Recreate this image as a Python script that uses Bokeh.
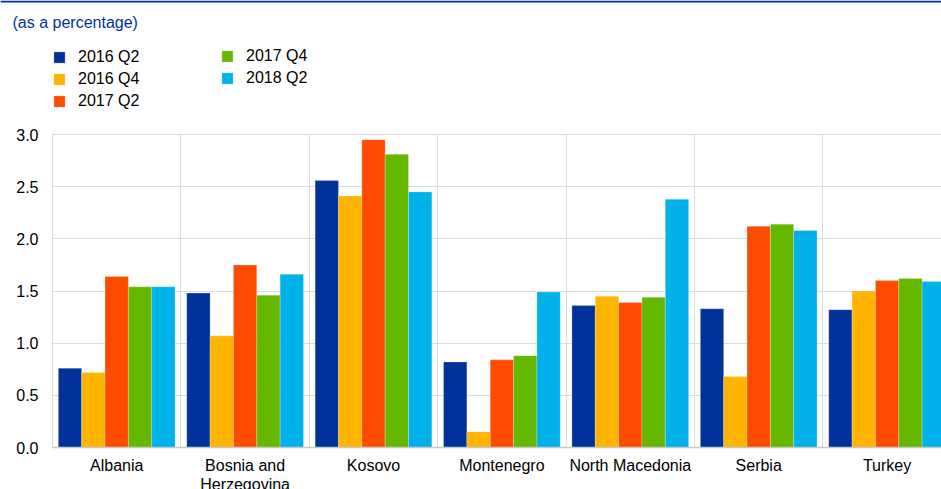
from bokeh.plotting import figure
from bokeh.models import (Range1d, FixedTicker, Legend, LegendItem, Label,
                          BoxAnnotation, ColumnDataSource)
from bokeh.embed import file_html
from bokeh.resources import INLINE

countries = ["Albania", "Bosnia and\nHerzegovina", "Kosovo", "Montenegro",
             "North Macedonia", "Serbia", "Turkey"]
series_names = ["2016 Q2", "2016 Q4", "2017 Q2", "2017 Q4", "2018 Q2"]
colors = ["#003299", "#FFB400", "#FF4B00", "#65B800", "#00B1EA"]

q2_2016 = [0.76, 1.48, 2.56, 0.82, 1.36, 1.33, 1.32]
q4_2016 = [0.72, 1.07, 2.41, 0.15, 1.45, 0.68, 1.50]
q2_2017 = [1.64, 1.75, 2.95, 0.84, 1.39, 2.12, 1.60]
q4_2017 = [1.54, 1.46, 2.81, 0.88, 1.44, 2.14, 1.62]
q2_2018 = [1.54, 1.66, 2.45, 1.49, 2.38, 2.08, 1.59]
series_values = [q2_2016, q4_2016, q2_2017, q4_2017, q2_2018]

y_ticks = [0.0, 0.5, 1.0, 1.5, 2.0, 2.5, 3.0]
y_tick_labels = ["0.0", "0.5", "1.0", "1.5", "2.0", "2.5", "3.0"]

FONT = "Liberation Sans"
FS = "16px"
W, H = 941, 489
# layout (pixels): plot area left edge, y of value 0, y of value 3.0
PX_LEFT, PX_ZERO, PX_TOPVAL = 52, 447, 134
cat_px = 128.4
y_max = y_ticks[-1]
ppu = (PX_ZERO - PX_TOPVAL) / y_max
n_cat = len(countries)
n_series = len(series_names)
group_frac = 0.909
bar_w = group_frac / n_series

p = figure(width=W, height=H, output_backend="svg", toolbar_location=None,
           x_range=Range1d(-PX_LEFT / cat_px, (W - PX_LEFT) / cat_px),
           y_range=Range1d(-(H - PX_ZERO) / ppu, y_max + PX_TOPVAL / ppu),
           min_border=0, min_border_left=0, min_border_right=0,
           min_border_top=0, min_border_bottom=0)
p.outline_line_color = None
p.background_fill_color = "white"
p.border_fill_color = "white"

renderers = []
for k, (name, vals, col) in enumerate(zip(series_names, series_values, colors)):
    xs = [i + 0.5 - group_frac / 2 + bar_w * (k + 0.5) for i in range(n_cat)]
    src = ColumnDataSource(dict(x=xs, top=vals))
    r = p.vbar(x="x", top="top", bottom=0, width=bar_w, source=src,
               fill_color=col, line_color="white", line_width=0.4, line_alpha=0.6)
    renderers.append(r)

# grids, limited to the plot area by white masks drawn over them
p.xgrid.ticker = FixedTicker(ticks=list(range(n_cat + 1)))
p.ygrid.ticker = FixedTicker(ticks=y_ticks)
p.xgrid.grid_line_color = "#dcdcdc"
p.ygrid.grid_line_color = "#dcdcdc"
eps = 0.6
for kw in (dict(bottom=y_max + eps / ppu), dict(top=-eps / ppu), dict(right=-eps / cat_px)):
    p.add_layout(BoxAnnotation(fill_color="white", fill_alpha=1, line_color=None,
                               level="underlay", **kw))

# axes fixed at the data origin
xa = p.xaxis[0]
xa.fixed_location = 0
xa.bounds = (0, n_cat)
xa.ticker = FixedTicker(ticks=[i + 0.5 for i in range(n_cat)])
xa.major_label_overrides = {i + 0.5: c for i, c in enumerate(countries)}
xa.axis_line_color = "#c8c8c8"
xa.axis_line_width = 1.5
xa.major_tick_line_color = None
xa.minor_tick_line_color = None
xa.major_tick_out = 0
xa.major_tick_in = 0
xa.major_label_standoff = 9
xa.major_label_text_font = FONT
xa.major_label_text_font_size = FS
xa.major_label_text_color = "#000000"
xa.major_label_text_line_height = 1.15

ya = p.yaxis[0]
ya.fixed_location = 0
ya.bounds = (0, y_max)
ya.ticker = FixedTicker(ticks=y_ticks)
ya.major_label_overrides = {t: l for t, l in zip(y_ticks, y_tick_labels)}
ya.axis_line_color = None
ya.major_tick_line_color = None
ya.minor_tick_line_color = None
ya.major_tick_out = 0
ya.major_tick_in = 0
ya.major_label_standoff = 14
ya.major_label_text_font = FONT
ya.major_label_text_font_size = FS
ya.major_label_text_color = "#000000"

# legends (two columns)
def make_legend(items, x, y):
    return Legend(items=items, location=(x, y), orientation="vertical",
                  glyph_width=14, glyph_height=14, label_standoff=12,
                  label_text_font=FONT, label_text_font_size=FS,
                  label_text_color="#000000", label_height=14, spacing=4,
                  padding=0, margin=0, border_line_color=None,
                  background_fill_alpha=0)

items = [LegendItem(label=n, renderers=[r]) for n, r in zip(series_names, renderers)]
p.add_layout(make_legend(items[:3], PX_LEFT, H - 110), "center")
p.add_layout(make_legend(items[3:], PX_LEFT + 168, H - 87), "center")

title = Label(x=12, y=H - 22, x_units="screen", y_units="screen",
              text="(as a percentage)", text_font=FONT, text_font_size=FS,
              text_color="#003299", text_baseline="middle")
p.add_layout(title)

topline = BoxAnnotation(bottom=H - 2, bottom_units="screen",
                        fill_color="#003299", fill_alpha=1, line_color=None)
p.add_layout(topline)

open("out.html", "w").write(file_html(p, INLINE))
